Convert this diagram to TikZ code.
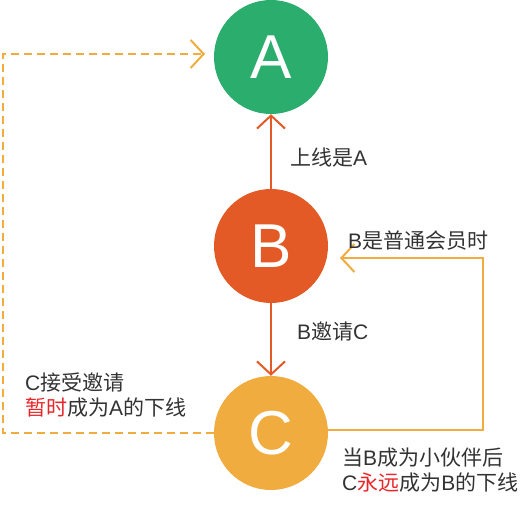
\documentclass[tikz,border=0pt]{standalone}
\usepackage{fontspec}
\setmainfont{Noto Sans CJK SC}
\newfontfamily\lat{Liberation Sans}
\usetikzlibrary{arrows.meta,calc}
\definecolor{cgreen}{HTML}{2BAD6E}
\definecolor{cred}{HTML}{E35A26}
\definecolor{corange}{HTML}{F0AC3F}
\definecolor{ctext}{HTML}{333333}
\definecolor{chl}{HTML}{E8262A}
\begin{document}
\begin{tikzpicture}[x=1pt,y=-1pt,
  person/.style={circle,minimum size=114pt,inner sep=0pt,text=white,
    font=\lat\fontsize{62}{62}\selectfont},
  tip/.style={-{Straight Barb[length=13pt,width=28pt]}},
  link/.style={draw=cred,line width=2pt,tip},
  rlink/.style={draw=corange,line width=2pt,tip},
  dlink/.style={draw=corange,line width=2pt,tip,dash pattern=on 8pt off 5pt},
  note/.style={anchor=west,inner sep=0pt,text=ctext,align=left,
    font=\fontsize{21}{25}\selectfont}]
\useasboundingbox (0,0) rectangle (520,510);
% the three members
\node[person,fill=cgreen] (A) at (271,57) {A};
\node[person,fill=cred]   (B) at (271,246) {B};
\node[person,fill=corange] (C) at (271,433) {C};
% direct relations
\draw[link] (B) -- (A);
\draw[link] (B) -- (C);
\node[note] (n1) at (290,158) {上线是{\lat A}};
\node[note] (n2) at (297,332) {{\lat B}邀请{\lat C}};
% permanent link back to B
\coordinate (bin) at (340,258);
\draw[rlink] (C.3) -| ([xshift=143pt]bin) -- (bin);
\node[note] (n3) at (348,241) {{\lat B}是普通会员时};
\node[note] (n4) at (342,470) {当{\lat B}成为小伙伴后\\{\lat C}\textcolor{chl}{永远}成为{\lat B}的下线};
% temporary link up to A
\coordinate (ain) at (205,54);
\draw[dlink] (C.west) -| ([xshift=-202pt]ain) -- (ain);
\node[note] (n5) at (25,395) {{\lat C}接受邀请\\\textcolor{chl}{暂时}成为{\lat A}的下线};
\end{tikzpicture}
\end{document}
